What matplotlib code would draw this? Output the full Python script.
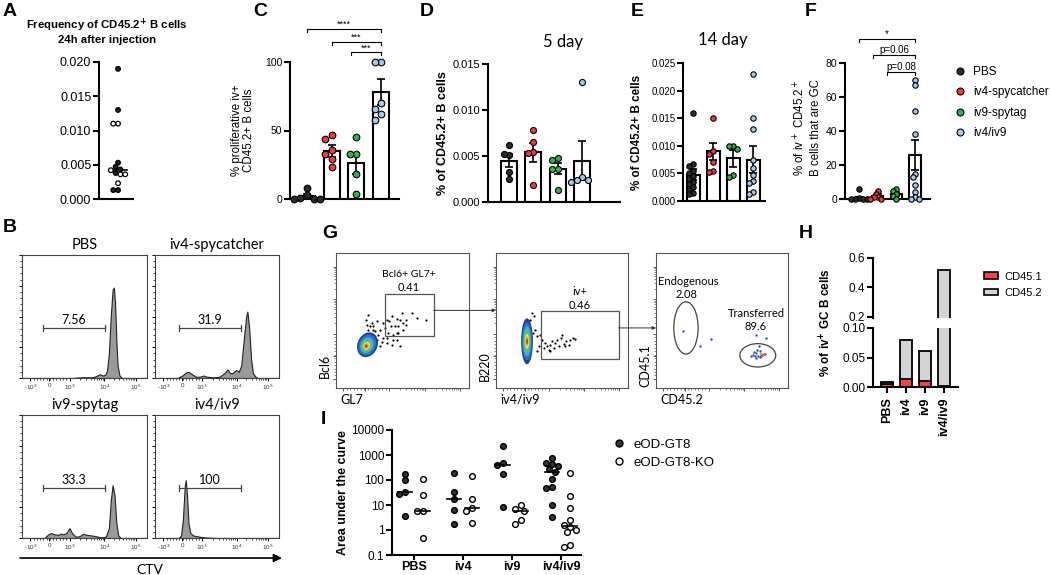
import numpy as np
import matplotlib
matplotlib.use("Agg")
import matplotlib.pyplot as plt
from matplotlib.patches import Ellipse, Rectangle, Patch, ConnectionPatch
from matplotlib.lines import Line2D

# --- DATA ---
GROUPS = ['PBS', 'iv4-spycatcher', 'iv9-spytag', 'iv4/iv9']
GROUP_COLORS = ['#2b2b2b', '#f0393b', '#2fb34a', '#a6c8ec']

# A: frequency 24h after injection
A_FILLED = [0.019, 0.013, 0.0053, 0.0047, 0.0043, 0.0038, 0.0013, 0.0013]
A_OPEN = [0.011, 0.011, 0.0042, 0.0036, 0.0036, 0.0023]

# C: % proliferative
C_MEAN = [2, 35, 26, 78]
C_SEM = [1.3, 4.5, 7.5, 9.5]
C_PTS = [[8, 3, 1, 0, 0, 0], [47, 44, 36, 33, 29, 23],
         [45, 33, 33, 18, 4], [100, 100, 70, 66, 62, 58]]

# D: 5 day
D_MEAN = [0.0045, 0.0054, 0.0036, 0.0045]
D_SEM = [0.0007, 0.0010, 0.0006, 0.0021]
D_PTS = [[0.0062, 0.0051, 0.0052, 0.0033, 0.0025],
         [0.0078, 0.0065, 0.0054, 0.0053, 0.0019],
         [0.0048, 0.0046, 0.0036, 0.0036, 0.0013],
         [0.013, 0.0027, 0.0024, 0.0024, 0.0022]]

# E: 14 day
E_MEAN = [0.0048, 0.0090, 0.0077, 0.0075]
E_SEM = [0.0010, 0.0015, 0.0016, 0.0024]
E_PTS = [[0.016, 0.0067, 0.0063, 0.0055, 0.005, 0.0045, 0.004, 0.0035, 0.003, 0.0025, 0.002, 0.0015, 0.0012],
         [0.015, 0.009, 0.0085, 0.007, 0.0055, 0.0053],
         [0.010, 0.010, 0.0095, 0.0048, 0.0043],
         [0.023, 0.015, 0.013, 0.0075, 0.006, 0.0048, 0.0036, 0.0033, 0.0017, 0.0012]]

# F: % GC
F_MEAN = [0.6, 1.8, 2.8, 26]
F_SEM = [0.6, 1.0, 1.2, 9]
F_PTS = [[6, 0.3, 0, 0, 0, 0], [5, 3, 1, 1, 0, 0], [6, 5, 3, 2, 0],
         [70, 67, 52, 38, 15, 13, 8, 4, 1, 0, 0]]

# B: CTV histograms (x in display fraction, y in fraction of axis)
B_X = [[0.0, 0.40, 0.45, 0.50, 0.55, 0.58, 0.60, 0.625, 0.645, 0.665, 0.68, 0.695, 0.71, 0.725, 0.735, 0.745, 0.755, 0.765, 0.78, 0.80, 1.0],
       [0.0, 0.18, 0.22, 0.25, 0.27, 0.30, 0.33, 0.36, 0.39, 0.42, 0.47, 0.52, 0.56, 0.585, 0.605, 0.625, 0.655, 0.675, 0.695, 0.715, 0.735, 0.745, 0.76, 0.775, 0.79, 0.81, 0.83, 1.0],
       [0.0, 0.18, 0.21, 0.23, 0.26, 0.29, 0.31, 0.33, 0.355, 0.38, 0.40, 0.43, 0.46, 0.49, 0.52, 0.56, 0.59, 0.63, 0.67, 0.695, 0.71, 0.725, 0.74, 0.755, 0.77, 0.79, 1.0],
       [0.0, 0.19, 0.21, 0.225, 0.24, 0.248, 0.258, 0.27, 0.285, 0.31, 0.35, 0.40, 0.45, 0.50, 1.0]]
B_Y = [[0, 0, 0.004, 0.006, 0.005, 0.01, 0.02, 0.03, 0.02, 0.025, 0.06, 0.2, 0.5, 0.72, 0.735, 0.6, 0.3, 0.1, 0.02, 0, 0],
       [0, 0, 0.02, 0.045, 0.05, 0.03, 0.01, 0.01, 0.02, 0.01, 0.005, 0.01, 0.04, 0.07, 0.04, 0.04, 0.065, 0.05, 0.1, 0.3, 0.5, 0.54, 0.4, 0.15, 0.04, 0.01, 0, 0],
       [0, 0, 0.03, 0.04, 0.03, 0.025, 0.035, 0.03, 0.04, 0.08, 0.04, 0.01, 0.015, 0.035, 0.025, 0.02, 0.015, 0.005, 0.01, 0.08, 0.3, 0.43, 0.35, 0.12, 0.02, 0, 0],
       [0, 0, 0.02, 0.15, 0.42, 0.47, 0.35, 0.12, 0.04, 0.02, 0.012, 0.005, 0.002, 0, 0]]
B_GATE = ['7.56', '31.9', '33.3', '100']
B_GATE_X = [(0.17, 0.665), (0.196, 0.69), (0.17, 0.665), (0.196, 0.69)]

# G: flow plots (arbitrary 0-1000 display units)
G1_X = [238, 225, 255, 280, 305, 330, 355, 380, 418, 455, 480, 493, 530, 413, 393, 430, 468, 505, 355, 380, 418, 455, 480, 330, 305,
        268, 243, 280, 368, 443, 400, 610, 675, 575, 318, 343, 455, 380, 430, 293, 230, 268, 468, 500, 525]
G1_Y = [538, 506, 462, 457, 494, 432, 482, 506, 531, 514, 506, 556, 469, 457, 408, 395, 408, 432, 371, 333, 321, 358, 309, 309, 358,
        395, 432, 432, 445, 457, 494, 519, 501, 556, 395, 338, 408, 371, 358, 420, 469, 482, 462, 482, 506]
G2_X = [280, 311, 336, 348, 374, 386, 412, 424, 449, 475, 492, 513, 533, 550, 563, 583, 601, 273, 285, 260, 298, 323, 361, 399, 437,
        462, 500, 525, 311, 412]
G2_Y = [408, 383, 395, 358, 333, 309, 321, 346, 333, 314, 371, 329, 346, 321, 358, 371, 363, 556, 531, 506, 432, 309, 296, 284, 296,
        358, 395, 309, 272, 272]
G3_BLUE_X = [207, 333, 413, 756, 832, 781, 736, 748, 761, 774, 791, 806, 816, 741, 756, 723, 786, 766, 799]
G3_BLUE_Y = [425, 309, 366, 390, 371, 314, 247, 235, 259, 240, 230, 247, 254, 264, 222, 235, 272, 279, 240]
G3_ORANGE_X = [799, 824, 806]
G3_ORANGE_Y = [252, 252, 244]
BLOB_COLORS = ['#27409a', '#2e74c9', '#38b6d8', '#5cc85a', '#f2e53a', '#f39a2b', '#e8251f']
G1_BLOB_W = [150, 125, 95, 70, 50, 34, 20]
G1_BLOB_H = [190, 160, 120, 85, 60, 40, 22]
G2_BLOB_W = [90, 75, 60, 45, 32, 22, 14]
G2_BLOB_H = [340, 280, 220, 160, 110, 70, 40]

# H: stacked bars
H_CATS = ['PBS', 'iv4', 'iv9', 'iv4/iv9']
H_CD451 = [0.005, 0.013, 0.011, 0.001]
H_CD452 = [0.003, 0.067, 0.050, 0.519]

# I: area under the curve
I_CATS = ['PBS', 'iv4', 'iv9', 'iv4/iv9']
I_FILLED = [[180, 100, 32, 27, 3.8], [185, 34, 17, 6.3, 1.7], [2300, 490, 400, 170, 8.6],
            [740, 480, 430, 380, 270, 200, 110, 52, 50, 10, 3.2]]
I_OPEN = [[110, 26, 6, 6, 0.48], [145, 17, 7.4, 6.0, 1.95], [10, 6.9, 6.0, 2.5, 1.7],
          [185, 22, 7.7, 2.4, 1.6, 1.35, 1.0, 0.85, 0.25, 0.21]]

# --- FIGURE ---
W, H = 1050, 575
plt.rcParams['font.family'] = ['Liberation Sans', 'DejaVu Sans']
plt.rcParams['axes.linewidth'] = 1.5
plt.rcParams['xtick.major.width'] = 1.5
plt.rcParams['ytick.major.width'] = 1.5
plt.rcParams['xtick.major.size'] = 4
plt.rcParams['ytick.major.size'] = 4
FLOW_FONT = ['Lato', 'DejaVu Sans']

fig = plt.figure(figsize=(W / 100, H / 100), dpi=100)


def box(l, t, r, b):
    return fig.add_axes([l / W, 1 - b / H, (r - l) / W, (b - t) / H])


def ftext(x, y, s, **kw):
    fig.text(x / W, 1 - y / H, s, **kw)


def swarm(ax, xc, vals, d, squeeze=1.0):
    """Spread points sideways so markers of diameter d (px) do not overlap."""
    disp = ax.transData.transform(np.column_stack([np.full(len(vals), xc), vals]))
    cx = disp[0, 0]
    dd = d * squeeze
    cand = np.arange(-8, 8.01, 0.5) * dd
    cand = cand[np.argsort(np.abs(cand), kind='stable')]
    placed, out = [], []
    for y in disp[:, 1]:
        for c in cand:
            if all((cx + c - px) ** 2 + (y - py) ** 2 >= dd ** 2 * 0.95 for px, py in placed):
                break
        placed.append((cx + c, y))
        out.append(ax.transData.inverted().transform((cx + c, y))[0])
    return np.array(out)


def prism_axes(ax, yticks, ylabels, fs):
    ax.spines[['top', 'right']].set_visible(False)
    ax.set_xticks([])
    ax.set_yticks(yticks)
    ax.set_yticklabels(ylabels, fontsize=fs)
    ax.tick_params(axis='y', pad=1.5)


def bar_panel(ax, means, sems, pts, width, s, squeeze=1.0):
    x = np.arange(len(means))
    ax.bar(x, means, width, color='white', edgecolor='k', lw=1.5, zorder=1)
    ax.errorbar(x, means, yerr=sems, fmt='none', ecolor='k', elinewidth=1.2,
                capsize=3, capthick=1.2, zorder=2)
    d = np.sqrt(s) * 100 / 72
    for i, vals in enumerate(pts):
        xs = swarm(ax, i, vals, d, squeeze)
        ax.scatter(xs, vals, s=s, color=GROUP_COLORS[i], edgecolors='k', lw=0.8,
                   zorder=3, clip_on=False)


def bracket(ax, x1, x2, y, tick, text, fs, pad=0):
    ax.plot([x1, x1, x2, x2], [y - tick, y, y, y - tick], color='k', lw=0.8, clip_on=False)
    ax.text((x1 + x2) / 2, y + pad, text, ha='center', va='bottom', fontsize=fs, clip_on=False)


def decade_minors(majors):
    out = []
    for a, b in zip(majors[:-1], majors[1:]):
        out += [a + (b - a) * np.log10(k) for k in range(2, 10)]
    return out


# ---------- A ----------
axA = box(99, 62, 133, 199)
axA.set_xlim(-0.56, 0.44)
axA.set_ylim(0, 0.02)
prism_axes(axA, [0, 0.005, 0.01, 0.015, 0.02], ['0.000', '0.005', '0.010', '0.015', '0.020'], 9)
a_vals = A_FILLED + A_OPEN
a_fill = ['#222222'] * len(A_FILLED) + ['white'] * len(A_OPEN)
a_x = swarm(axA, 0, a_vals, 4.8)
axA.scatter(a_x, a_vals, s=11, c=a_fill, edgecolors='k', lw=0.9, zorder=3, clip_on=False)
axA.plot([-0.26, 0.26], [np.median(a_vals)] * 2, color='k', lw=1.2, zorder=2)
ftext(107, 25, 'Frequency of CD45.2$^{\\mathbf{+}}$ B cells', ha='center', va='center',
      fontsize=8.2, fontweight='bold')
ftext(107, 40, '24h after injection', ha='center', va='center', fontsize=8.2, fontweight='bold')

# ---------- C ----------
axC = box(290, 62, 399, 199)
axC.set_xlim(-0.68, 3.72)
axC.set_ylim(0, 100)
prism_axes(axC, [0, 50, 100], ['0', '50', '100'], 7.5)
bar_panel(axC, C_MEAN, C_SEM, C_PTS, 0.64, 23)
bracket(axC, 0, 3, 124, 2.2, '****', 6.5)
bracket(axC, 1, 3, 114.5, 2.2, '***', 6.5)
bracket(axC, 1.8, 3, 107, 2.2, '***', 6.5)
ftext(243, 130, '% proliferative iv+\nCD45.2+ B cells', rotation=90, ha='center', va='center',
      fontsize=8.3, linespacing=1.1)

# ---------- D ----------
axD = box(488, 64, 620, 202)
axD.set_xlim(-0.86, 4.55)
axD.set_ylim(0, 0.015)
prism_axes(axD, [0, 0.005, 0.01, 0.015], ['0.000', '0.005', '0.010', '0.015'], 8)
bar_panel(axD, D_MEAN, D_SEM, D_PTS, 0.66, 19, 0.9)
ftext(563, 42, '5 day', ha='center', va='center', fontsize=12, family=FLOW_FONT)
ftext(443, 133, '% of CD45.2+ B cells', rotation=90, ha='center', va='center',
      fontsize=9, fontweight='bold')

# ---------- E ----------
axE = box(683, 63, 765, 201)
axE.set_xlim(-0.5, 3.6)
axE.set_ylim(0, 0.025)
prism_axes(axE, [0, 0.005, 0.01, 0.015, 0.02, 0.025],
           ['0.000', '0.005', '0.010', '0.015', '0.020', '0.025'], 7)
bar_panel(axE, E_MEAN, E_SEM, E_PTS, 0.65, 15, 0.7)
ftext(723, 40, '14 day', ha='center', va='center', fontsize=12, family=FLOW_FONT)
ftext(637, 132, '% of CD45.2+ B cells', rotation=90, ha='center', va='center',
      fontsize=8.4, fontweight='bold')

# ---------- F ----------
axF = box(845, 63, 930, 199)
axF.set_xlim(-0.75, 3.8)
axF.set_ylim(0, 80)
prism_axes(axF, [0, 20, 40, 60, 80], ['0', '20', '40', '60', '80'], 7.5)
bar_panel(axF, F_MEAN, F_SEM, F_PTS, 0.6, 15, 0.7)
bracket(axF, 0, 3, 94, 1.5, '*', 7)
bracket(axF, 0.75, 3, 84.5, 1.5, 'p=0.06', 7)
bracket(axF, 1.5, 3, 74.5, 1.5, 'p=0.08', 7)
ftext(807, 128, '% of iv$^+$ CD45.2$^+$\nB cells that are GC', rotation=90, ha='center',
      va='center', fontsize=8.3, linespacing=1.2)
f_handles = [Line2D([], [], ls='none', marker='o', ms=5, mfc=c, mec='k', mew=0.8)
             for c in GROUP_COLORS]
fig.legend(f_handles, GROUPS, loc='upper left', bbox_to_anchor=(948 / W, 1 - 60 / H),
           frameon=False, fontsize=8.5, handletextpad=0.6, labelspacing=0.72,
           handlelength=1.0, borderpad=0)

# ---------- B ----------
b_boxes = [(22, 255, 147, 378), (155, 255, 279, 378), (22, 415, 147, 538), (155, 415, 279, 538)]
b_xmaj = [0.067, 0.22, 0.38, 0.66, 0.91]
b_xmin = list(np.linspace(0.067, 0.38, 13)[1:-1]) + decade_minors([0.38, 0.66, 0.91])
for i, (l, t, r, b) in enumerate(b_boxes):
    ax = box(l, t, r, b)
    ax.fill_between(B_X[i], B_Y[i], color='#9a9a9a', edgecolor='#222222', lw=0.8)
    ax.set_xlim(0, 1)
    ax.set_ylim(0, 1)
    for sp in ax.spines.values():
        sp.set_linewidth(0.8)
        sp.set_color('#444444')
    ax.set_xticks(b_xmaj)
    ax.set_xticklabels(['-10$^3$', '0', '10$^3$', '10$^4$', '10$^5$'], fontsize=4.5,
                       color='#333333')
    ax.set_xticks(b_xmin, minor=True)
    ax.set_yticks(np.linspace(0, 1, 5))
    ax.set_yticks(np.linspace(0, 1, 21), minor=True)
    ax.set_yticklabels([])
    ax.tick_params(which='major', length=2.5, width=0.7, pad=1)
    ax.tick_params(which='minor', length=1.3, width=0.5)
    g0, g1 = B_GATE_X[i]
    gy = 0.405
    ax.plot([g0, g1], [gy, gy], color='#444444', lw=0.9)
    ax.plot([g0, g0], [gy - 0.025, gy + 0.025], color='#444444', lw=0.9)
    ax.plot([g1, g1], [gy - 0.025, gy + 0.025], color='#444444', lw=0.9)
    ax.text((g0 + g1) / 2, gy + 0.02, B_GATE[i], ha='center', va='bottom', fontsize=9,
            family=FLOW_FONT)
    ftext((l + r) / 2, t - 10, GROUPS[i], ha='center', va='center', fontsize=10.5,
          family=FLOW_FONT)
fig.add_artist(ConnectionPatch(xyA=(20 / W, 1 - 558 / H), xyB=(282 / W, 1 - 558 / H),
                               coordsA=fig.transFigure, coordsB=fig.transFigure,
                               arrowstyle='-|>', mutation_scale=12, lw=1.2, color='k'))
ftext(150, 570, 'CTV', ha='center', va='center', fontsize=10, family=FLOW_FONT)

# ---------- G ----------
g_boxes = [(336, 253, 469, 388), (496, 253, 628, 388), (656, 253, 788, 388)]
g_axes = []
g_xmaj = [55, 220, 400, 670, 930]
g_ymaj = [67, 235, 400, 660, 900]
for (l, t, r, b) in g_boxes:
    ax = box(l, t, r, b)
    ax.set_xlim(0, 1000)
    ax.set_ylim(0, 1000)
    for sp in ax.spines.values():
        sp.set_linewidth(0.8)
        sp.set_color('#555555')
    ax.set_xticks(g_xmaj)
    ax.set_yticks(g_ymaj)
    ax.set_xticks(list(np.linspace(55, 400, 14)[1:-1]) + decade_minors([400, 670, 930]), minor=True)
    ax.set_yticks(list(np.linspace(67, 400, 14)[1:-1]) + decade_minors([400, 660, 900]), minor=True)
    ax.set_xticklabels([])
    ax.set_yticklabels([])
    ax.tick_params(which='major', length=2.5, width=0.7, color='#555555')
    ax.tick_params(which='minor', length=1.3, width=0.5, color='#555555')
    g_axes.append(ax)
ax1, ax2, ax3 = g_axes

for w, h, c in zip(G1_BLOB_W, G1_BLOB_H, BLOB_COLORS):
    ax1.add_patch(Ellipse((225 + w * 0.08, 309 + h * 0.06), w, h, angle=-25, color=c, lw=0, zorder=2))
ax1.scatter(G1_X, G1_Y, s=2.5, color='k', lw=0, zorder=1)
ax1.add_patch(Rectangle((368, 383), 367, 316, fill=False, ec='#555555', lw=0.9))
ax1.text(548, 840, 'Bcl6+ GL7+', ha='center', va='center', fontsize=7.5, family=FLOW_FONT)
ax1.text(548, 741, '0.41', ha='center', va='center', fontsize=8, family=FLOW_FONT)

for w, h, c in zip(G2_BLOB_W, G2_BLOB_H, BLOB_COLORS):
    ax2.add_patch(Ellipse((235, 346), w, h, color=c, lw=0, zorder=2))
ax2.scatter(G2_X, G2_Y, s=2.5, color='k', lw=0, zorder=1)
ax2.add_patch(Rectangle((341, 215), 588, 353, fill=False, ec='#555555', lw=0.9))
ax2.text(634, 716, 'iv+', ha='center', va='center', fontsize=8, family=FLOW_FONT)
ax2.text(634, 610, '0.46', ha='center', va='center', fontsize=8, family=FLOW_FONT)

ax3.add_patch(Ellipse((227, 445), 184, 388, fill=False, ec='#444444', lw=0.9))
ax3.add_patch(Ellipse((771, 242), 272, 173, fill=False, ec='#444444', lw=0.9))
ax3.scatter(G3_BLUE_X, G3_BLUE_Y, s=3, color='#2a4fd6', lw=0, zorder=3)
ax3.scatter(G3_ORANGE_X, G3_ORANGE_Y, s=4, color='#f06a2a', lw=0, zorder=4)
ax3.text(244, 790, 'Endogenous', ha='center', va='center', fontsize=8, family=FLOW_FONT)
ax3.text(232, 692, '2.08', ha='center', va='center', fontsize=8, family=FLOW_FONT)
ax3.text(761, 551, 'Transferred', ha='center', va='center', fontsize=8, family=FLOW_FONT)
ax3.text(756, 457, '89.6', ha='center', va='center', fontsize=8, family=FLOW_FONT)

for src, dst, pt in [(ax1, ax2, (735, 575)), (ax2, ax3, (929, 445))]:
    yd = src.transData.transform(pt)[1]
    yb = dst.transAxes.inverted().transform((0, yd))[1]
    fig.add_artist(ConnectionPatch(xyA=pt, coordsA=src.transData, xyB=(0, yb),
                                   coordsB=dst.transAxes, arrowstyle='-|>',
                                   mutation_scale=5, lw=0.7, color='#333333'))

for (l, t, r, b), xl, yl in zip(g_boxes, ['GL7', 'iv4/iv9', 'CD45.2'], ['Bcl6', 'B220', 'CD45.1']):
    ftext(l + 4, 400, xl, ha='left', va='center', fontsize=9, family=FLOW_FONT)
    ftext(l - 11, b - 22, yl, ha='center', va='center', rotation=90, fontsize=9, family=FLOW_FONT)

# ---------- H ----------
hx = np.arange(len(H_CATS))
axHt = box(873, 258, 958, 318)
axHb = box(873, 328, 958, 387)
for ax in (axHt, axHb):
    ax.bar(hx, H_CD451, 0.63, color='#f04545', edgecolor='k', lw=1.3)
    ax.bar(hx, H_CD452, 0.63, bottom=H_CD451, color='#d4d4d4', edgecolor='k', lw=1.3)
    ax.set_xlim(-0.74, 3.74)
    ax.spines[['top', 'right']].set_visible(False)
axHt.set_ylim(0.19, 0.6)
axHt.spines['bottom'].set_visible(False)
axHt.set_xticks([])
axHt.set_yticks([0.2, 0.4, 0.6])
axHt.set_yticklabels(['0.2', '0.4', '0.6'], fontsize=8.5)
axHb.set_ylim(0, 0.1)
axHb.set_yticks([0, 0.05, 0.1])
axHb.set_yticklabels(['0.00', '0.05', '0.10'], fontsize=8.5)
axHb.set_xticks(hx)
axHb.set_xticklabels(H_CATS, rotation=90, fontsize=9, fontweight='bold')
for ax in (axHt, axHb):
    ax.tick_params(axis='y', pad=1.5)
ftext(826, 323, '% of iv$^{\\mathbf{+}}$ GC B cells', rotation=90, ha='center', va='center',
      fontsize=8.5, fontweight='bold')
h_handles = [Patch(facecolor='#f04545', edgecolor='k', lw=1.2),
             Patch(facecolor='#d4d4d4', edgecolor='k', lw=1.2)]
fig.legend(h_handles, ['CD45.1', 'CD45.2'], loc='upper left',
           bbox_to_anchor=(978 / W, 1 - 266 / H), frameon=False, fontsize=8,
           handlelength=1.3, handleheight=0.5, handletextpad=0.6, labelspacing=0.55, borderpad=0)

# ---------- I ----------
axI = box(392, 430, 581, 555)
axI.set_yscale('log')
axI.set_xlim(-0.45, 3.41)
axI.set_ylim(0.1, 10000)
axI.spines[['top', 'right']].set_visible(False)
axI.set_yticks([0.1, 1, 10, 100, 1000, 10000])
axI.set_yticklabels(['0.1', '1', '10', '100', '1000', '10000'], fontsize=8.5)
axI.yaxis.set_minor_locator(matplotlib.ticker.NullLocator())
axI.set_xticks(np.arange(len(I_CATS)))
axI.set_xticklabels(I_CATS, fontsize=9, fontweight='bold')
axI.tick_params(axis='y', pad=1.5)
axI.tick_params(axis='x', pad=1, length=3.5)
for i in range(len(I_CATS)):
    for vals, off, face in [(I_FILLED[i], -0.18, '#333333'), (I_OPEN[i], 0.18, 'white')]:
        xs = swarm(axI, i + off, vals, 5.8)
        axI.scatter(xs, vals, s=17, color=face, edgecolors='k', lw=1.0, zorder=3, clip_on=False)
        axI.plot([i + off - 0.14, i + off + 0.14], [np.median(vals)] * 2, color='k', lw=1.2, zorder=4)
ftext(343, 493, 'Area under the curve', rotation=90, ha='center', va='center', fontsize=9,
      fontweight='bold')
i_handles = [Line2D([], [], ls='none', marker='o', ms=5, mfc='#333333', mec='k', mew=1),
             Line2D([], [], ls='none', marker='o', ms=5, mfc='white', mec='k', mew=1)]
fig.legend(i_handles, ['eOD-GT8', 'eOD-GT8-KO'], loc='upper left',
           bbox_to_anchor=(606 / W, 1 - 432 / H), frameon=False, fontsize=9.5,
           handletextpad=0.6, labelspacing=0.45, handlelength=1.0, borderpad=0)

# ---------- panel letters ----------
for lab, x, y in [('A', 10, 12), ('B', 10, 228), ('C', 260, 12), ('D', 427, 12), ('E', 637, 12),
                  ('F', 811, 12), ('G', 330, 234), ('H', 806, 234), ('I', 323, 420)]:
    ftext(x, y, lab, ha='center', va='center', fontsize=14, fontweight='bold')

fig.savefig('out.png', dpi=100)
